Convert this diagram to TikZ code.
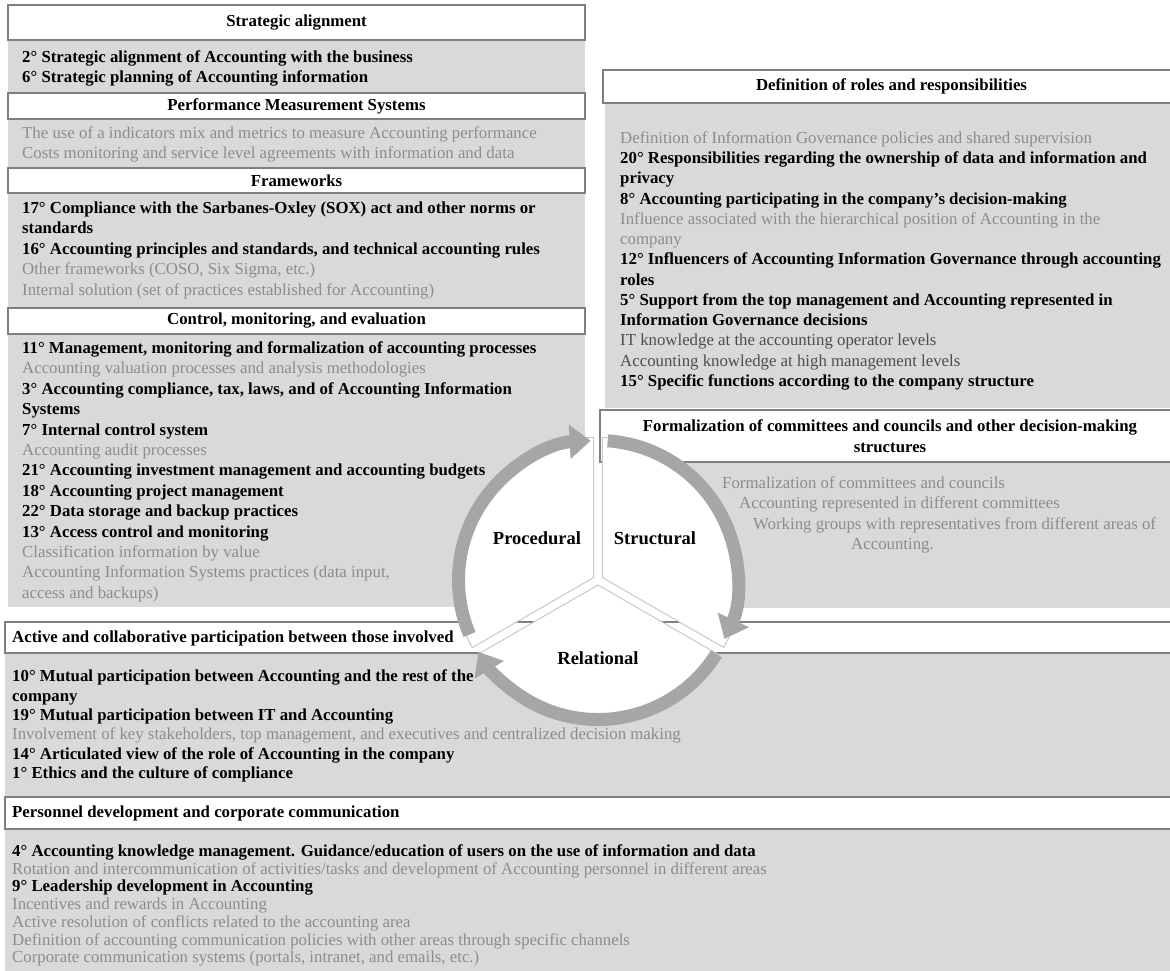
\documentclass[tikz,border=0pt]{standalone}
\usepackage{fontspec}
\setmainfont{Liberation Serif}
\usetikzlibrary{positioning,arrows.meta}

\definecolor{panelgray}{HTML}{D9D9D9}
\definecolor{framegray}{HTML}{7F7F7F}
\definecolor{txtgray}{HTML}{8C8C8C}
\definecolor{txtdark}{HTML}{4D4D4D}
\definecolor{ringgray}{HTML}{A6A6A6}
\definecolor{spokegray}{HTML}{C8C8C8}

\newcommand{\bl}[1]{\strut\textbf{#1}}
\newcommand{\gl}[1]{\strut{\color{txtgray}#1}}
\newcommand{\dl}[1]{\strut{\color{txtdark}#1}}

\tikzset{
  hdr/.style={draw=framegray, line width=2pt, fill=white},
  hdrtxt/.style={inner sep=0pt, align=center, font=\fontsize{16.8}{20.4}\selectfont\bfseries},
  body/.style={anchor=north west, inner sep=0pt, align=left, font=\fontsize{16.8}{#1}\selectfont},
  body/.default=20.4,
  sector/.style={fill=white, draw=spokegray, line width=1pt},
  ringarrow/.style={draw=ringgray, line width=13pt, -{Triangle[width=33pt,length=21pt]}},
  cyclbl/.style={font=\fontsize{18.5}{22}\selectfont\bfseries}
}

\begin{document}
\begin{tikzpicture}[x=1pt, y=1pt]

\useasboundingbox (0,0) rectangle (1170,-971);
\clip (0,0) rectangle (1170,-971);

% gray panels
\fill[panelgray] (8,-40) rectangle (585,-607);
\fill[panelgray] (605,-103) rectangle (1170,-408);
\fill[panelgray] (605,-462) rectangle (1170,-608);
\fill[panelgray] (5,-653) rectangle (1170,-797);
\fill[panelgray] (5,-829) rectangle (1170,-971);

% the cycle sits on a white disc
\coordinate (ctr) at (598,-580);
\fill[white] (ctr) circle (141);

% headers, left column
\draw[hdr] (8,-5) rectangle (585,-40) node[pos=0.5, hdrtxt] (hStrat) {Strategic alignment};
\draw[hdr] (8,-93) rectangle (585,-119) node[pos=0.5, hdrtxt] (hPerf) {Performance Measurement Systems};
\draw[hdr] (8,-168) rectangle (585,-193) node[pos=0.5, hdrtxt] (hFrame) {Frameworks};
\draw[hdr] (8,-308) rectangle (585,-334) node[pos=0.5, hdrtxt] (hCtrl) {Control, monitoring, and evaluation};

% headers, right column
\draw[hdr] (603,-70) rectangle (1180,-103) node[pos=0.5, hdrtxt] (hRoles) {Definition of roles and responsibilities};
\draw[hdr] (600,-410) rectangle (1180,-462) node[pos=0.5, hdrtxt] (hForm) {Formalization of committees and councils and other decision-making\\ structures};

% headers, bottom
\draw[hdr] (5,-622) rectangle (1180,-653);
\node[hdrtxt, anchor=west] (hAct) at (12,-638) {Active and collaborative participation between those involved};
\draw[hdr] (5,-797) rectangle (1180,-829);
\node[hdrtxt, anchor=west] (hPers) at (12,-813) {Personnel development and corporate communication};

% panel texts
\node[body] (tStrat) at (22,-48) {\bl{2° Strategic alignment of Accounting with the business}\\
\bl{6° Strategic planning of Accounting information}};

\node[body] (tPerf) at (22,-124) {\gl{The use of a indicators mix and metrics to measure Accounting performance}\\
\gl{Costs monitoring and service level agreements with information and data}};

\node[body] (tFrame) at (22,-199) {\bl{17° Compliance with the Sarbanes-Oxley (SOX) act and other norms or}\\
\bl{standards}\\
\bl{16° Accounting principles and standards, and technical accounting rules}\\
\gl{Other frameworks (COSO, Six Sigma, etc.)}\\
\gl{Internal solution (set of practices established for Accounting)}};

\node[body] (tCtrl) at (22,-339) {\bl{11° Management, monitoring and formalization of accounting processes}\\
\gl{Accounting valuation processes and analysis methodologies}\\
\bl{3° Accounting compliance, tax, laws, and of Accounting Information}\\
\bl{Systems}\\
\bl{7° Internal control system}\\
\gl{Accounting audit processes}\\
\bl{21° Accounting investment management and accounting budgets}\\
\bl{18° Accounting project management}\\
\bl{22° Data storage and backup practices}\\
\bl{13° Access control and monitoring}\\
\gl{Classification information by value}\\
\gl{Accounting Information Systems practices (data input,}\\
\gl{access and backups)}};

\node[body=20.25] (tRoles) at (620,-129) {\gl{Definition of Information Governance policies and shared supervision}\\
\bl{20° Responsibilities regarding the ownership of data and information and}\\
\bl{privacy}\\
\bl{8° Accounting participating in the company's decision-making}\\
\gl{Influence associated with the hierarchical position of Accounting in the}\\
\gl{company}\\
\bl{12° Influencers of Accounting Information Governance through accounting}\\
\bl{roles}\\
\bl{5° Support from the top management and Accounting represented in}\\
\bl{Information Governance decisions}\\
\dl{IT knowledge at the accounting operator levels}\\
\dl{Accounting knowledge at high management levels}\\
\bl{15° Specific functions according to the company structure}};

\node[body] (tForm) at (722,-474) {\gl{Formalization of committees and councils}\\
\hspace*{17pt}\gl{Accounting represented in different committees}\\
\hspace*{31pt}\gl{Working groups with representatives from different areas of}\\
\hspace*{129pt}\gl{Accounting.}};

\node[body=19.4] (tAct) at (12,-668) {\bl{10° Mutual participation between Accounting and the rest of the}\\
\bl{company}\\
\bl{19° Mutual participation between IT and Accounting}\\
\gl{Involvement of key stakeholders, top management, and executives and centralized decision making}\\
\bl{14° Articulated view of the role of Accounting in the company}\\
\bl{1° Ethics and the culture of compliance}};

\node[body=17.7] (tPers) at (12,-844) {\bl{4° Accounting knowledge management. Guidance/education of users on the use of information and data}\\
\gl{Rotation and intercommunication of activities/tasks and development of Accounting personnel in different areas}\\
\bl{9° Leadership development in Accounting}\\
\gl{Incentives and rewards in Accounting}\\
\gl{Active resolution of conflicts related to the accounting area}\\
\gl{Definition of accounting communication policies with other areas through specific channels}\\
\gl{Corporate communication systems (portals, intranet, and emails, etc.)}};

% cycle in the middle
\foreach \s in {90, -30, 210} {
\draw[sector] ([shift={(\s+60:5)}]ctr) -- ++(\s:140) arc[start angle=\s, end angle=\s+120, radius=140] -- cycle;
}
\foreach \a/\b in {203/93, 86/-25, -32/-149} {
\draw[ringarrow] ([shift={(\a:139.5)}]ctr) arc[start angle=\a, end angle=\b, radius=139.5];
}

\node[cyclbl] (lProc) at (537,-538) {Procedural};
\node[cyclbl] (lStruct) at (655,-538) {Structural};
\node[cyclbl] (lRel) at (598,-658) {Relational};

\end{tikzpicture}
\end{document}
